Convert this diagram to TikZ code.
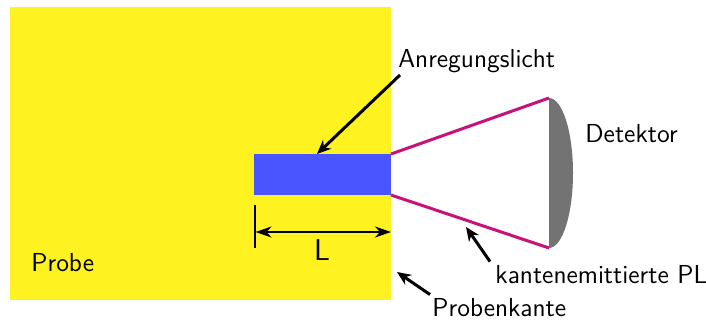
\documentclass[tikz,border=0pt]{standalone}
\usepackage{xcolor}
\usetikzlibrary{arrows.meta,positioning}
\definecolor{pbyellow}{HTML}{FFF221}
\definecolor{pbblue}{HTML}{4B55FF}
\definecolor{pbmagenta}{HTML}{C6127A}
\definecolor{pbgray}{HTML}{737373}

\begin{document}
\begin{tikzpicture}[
  x=0.5pt, y=-0.5pt,
  font=\fontsize{13}{15.6}\selectfont\sffamily,
  block/.style={draw=none, inner sep=0pt, outer sep=0pt},
  sample/.style={block, fill=pbyellow, minimum width=190.5pt, minimum height=146.5pt},
  strip/.style={block, fill=pbblue, minimum width=68.5pt, minimum height=20.5pt},
  lbl/.style={inner sep=0pt, anchor=base west},
  pointer/.style={-{Stealth[length=7pt,width=6pt]}, line width=1.5pt},
  ray/.style={pbmagenta, line width=1.5pt},
  dim/.style={{Stealth[length=8pt,width=5.5pt,inset=2.5pt]}-{Stealth[length=8pt,width=5.5pt,inset=2.5pt]}, line width=1pt}
]
\useasboundingbox (0,0) rectangle (706,325);

% sample and excited stripe
\node[sample] (probe) at (200.5,153.5) {};
\node[strip] (stripe) at (322.5,174.5) {};
\node[lbl] (probelbl) at (31,272) {Probe};

% detector
\coordinate (dettop) at (549,98);
\coordinate (detbot) at (549,248);
\fill[pbgray] (dettop) arc[start angle=90, end angle=-90, x radius=12pt, y radius=37.5pt] -- cycle;
\node[lbl] (detlbl) at (585,143) {Detektor};

% emitted light cone
\draw[ray] (stripe.north east) -- (dettop);
\draw[ray] (stripe.south east) -- (detbot);

% length of stripe
\coordinate (tickA) at (255,205);
\coordinate (tickB) at (255,248);
\draw[line width=1pt] (tickA) -- (tickB);
\coordinate (dimL) at (255.5,232);
\coordinate (dimR) at (391,232);
\draw[dim] (dimL) -- (dimR);
\node[inner sep=0pt, font=\fontsize{15}{18}\selectfont\sffamily] (lenlbl) at (322,250.5) {L};

% labels with pointers
\node[lbl] (exc) at (398,68) {Anregungslicht};
\coordinate (excend) at (317,154);
\draw[pointer] (400,75) -- (excend);

\node[lbl] (pl) at (495,284) {kantenemittierte PL};
\coordinate (plend) at (466,227);
\draw[pointer] (pl.north west) ++(-5,-4) -- (plend);

\node[lbl] (edge) at (432,317) {Probenkante};
\coordinate (edgeend) at (397,272);
\draw[pointer] (edge.north west) ++(-2,-4) -- (edgeend);

\end{tikzpicture}
\end{document}
